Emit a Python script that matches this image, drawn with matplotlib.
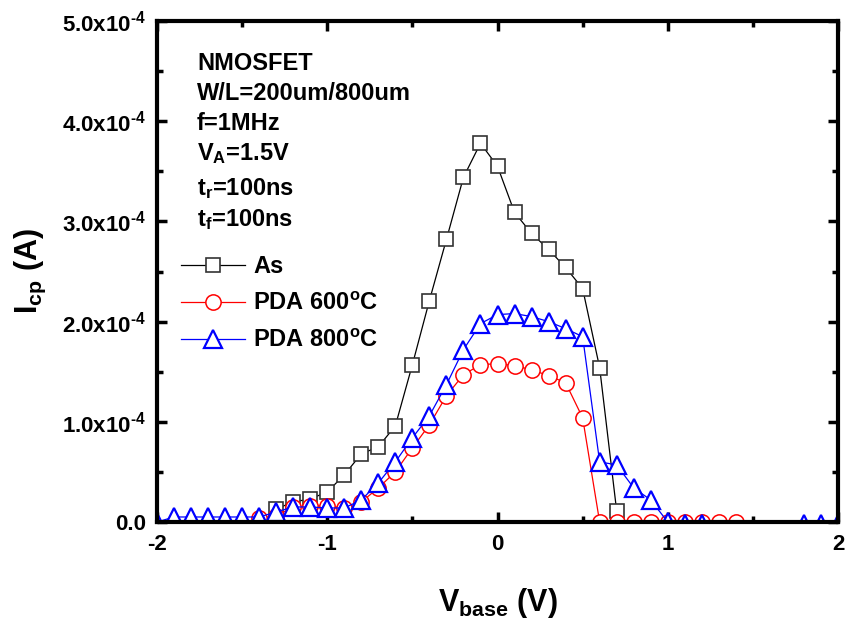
import numpy as np
import matplotlib
matplotlib.use('Agg')
import matplotlib.pyplot as plt

plt.rcParams['font.family'] = ['Liberation Sans', 'DejaVu Sans']
plt.rcParams['font.weight'] = 'bold'
plt.rcParams['axes.labelweight'] = 'bold'
plt.rcParams['mathtext.fontset'] = 'custom'
plt.rcParams['mathtext.rm'] = 'Liberation Sans:bold'
plt.rcParams['mathtext.it'] = 'Liberation Sans:bold'
plt.rcParams['mathtext.bf'] = 'Liberation Sans:bold'

# data (Icp in units of 1e-4 A)
x_as = [-1.3, -1.2, -1.1, -1.0, -0.9, -0.8, -0.7, -0.6, -0.5, -0.4, -0.3,
        -0.2, -0.1, 0.0, 0.1, 0.2, 0.3, 0.4, 0.5, 0.6, 0.7]
y_as = [0.13, 0.20, 0.23, 0.30, 0.47, 0.68, 0.75, 0.96, 1.57, 2.21, 2.82,
        3.44, 3.78, 3.55, 3.09, 2.88, 2.72, 2.54, 2.33, 1.54, 0.11]

x_600 = [-1.4, -1.3, -1.2, -1.1, -1.0, -0.9, -0.8, -0.7, -0.6, -0.5, -0.4,
         -0.3, -0.2, -0.1, 0.0, 0.1, 0.2, 0.3, 0.4, 0.5, 0.6, 0.7, 0.8,
         0.9, 1.0, 1.1, 1.2, 1.3, 1.4]
y_600 = [0.04, 0.06, 0.15, 0.16, 0.16, 0.14, 0.20, 0.34, 0.50, 0.74, 0.97,
         1.26, 1.47, 1.57, 1.58, 1.56, 1.52, 1.46, 1.39, 1.04, 0.0, 0.0, 0.0,
         0.0, 0.0, 0.0, 0.0, 0.0, 0.0]

x_800 = [-2.0, -1.9, -1.8, -1.7, -1.6, -1.5, -1.4, -1.3, -1.2, -1.1, -1.0,
         -0.9, -0.8, -0.7, -0.6, -0.5, -0.4, -0.3, -0.2, -0.1, 0.0, 0.1,
         0.2, 0.3, 0.4, 0.5, 0.6, 0.7, 0.8, 0.9, 1.0, 1.1, 1.2, 1.3, 1.4,
         1.5, 1.6, 1.7, 1.8, 1.9, 2.0]
y_800 = [0.0, 0.05, 0.05, 0.05, 0.05, 0.05, 0.05, 0.10, 0.15, 0.15, 0.14,
         0.14, 0.22, 0.39, 0.60, 0.84, 1.06, 1.37, 1.72, 1.98, 2.07, 2.08,
         2.05, 2.00, 1.93, 1.85, 0.60, 0.57, 0.34, 0.22, 0.0, -0.02, -0.02,
         np.nan, np.nan, np.nan, np.nan, np.nan, -0.02, -0.02, -0.02]

yticks = [0, 1, 2, 3, 4, 5]
ytick_labels = ['0.0', '1.0x10$^{\u20104}$', '2.0x10$^{\u20104}$',
                '3.0x10$^{\u20104}$', '4.0x10$^{\u20104}$', '5.0x10$^{\u20104}$']
xticks = [-2, -1, 0, 1, 2]

notes = ['NMOSFET', 'W/L=200um/800um', 'f=1MHz', 'V$_{\\mathrm{A}}$=1.5V',
         't$_{\\mathrm{r}}$=100ns', 't$_{\\mathrm{f}}$=100ns']
note_base = [70, 100, 130, 160, 195, 226]  # baseline pixel rows

scale = 1e-4
fig = plt.figure(figsize=(8.47, 6.21), dpi=100)
ax = fig.add_axes([157/847, 1-522/621, 681/847, 501/621])

ax.plot(x_as, np.array(y_as)*scale, color='black', lw=0.9, marker='s', ms=10.5,
        mfc='white', mec='#333333', mew=1.2, label='As', zorder=3)
ax.plot(x_600, np.array(y_600)*scale, color='red', lw=0.9, marker='o', ms=11,
        mfc='white', mec='red', mew=1.1, label='PDA 600$^{\\mathrm{o}}$C', zorder=4)
ax.plot(x_800, np.array(y_800)*scale, color='blue', lw=0.9, marker='^', ms=12.5,
        mfc='white', mec='blue', mew=1.6, label='PDA 800$^{\\mathrm{o}}$C', zorder=5)

ax.set_xlim(-2, 2)
ax.set_ylim(0, 5e-4)
ax.set_xticks(xticks)
ax.set_xticklabels([str(v) for v in xticks])
ax.set_xticks(np.arange(-2, 2.01, 0.5), minor=True)
ax.set_yticks([v*scale for v in yticks])
ax.set_yticklabels(ytick_labels)
ax.set_yticks(np.arange(0, 5.01, 0.5)*scale, minor=True)

for s in ax.spines.values():
    s.set_linewidth(3)
    s.set_zorder(6)
ax.tick_params(which='both', direction='in', top=True, right=True, width=2.5,
               labelsize=16)
ax.tick_params(which='major', length=7)
ax.tick_params(which='minor', length=4)
ax.tick_params(axis='y', pad=8)
ax.tick_params(axis='x', pad=9)

ax.set_xlabel('V$_{\\mathrm{base}}$ (V)', fontsize=22, labelpad=22)
ax.set_ylabel('I$_{\\mathrm{cp}}$ (A)', fontsize=22, labelpad=10)

for t, b in zip(notes, note_base):
    ax.text((197-157)/681, (522-b)/501, t, transform=ax.transAxes,
            fontsize=17, va='baseline', ha='left')

ax.legend(loc='upper left', bbox_to_anchor=((181-157)/681, (522-255)/501),
          frameon=False, fontsize=17, handlelength=2.7, handletextpad=0.35,
          labelspacing=0.6, borderpad=0, borderaxespad=0)

fig.savefig('out.png', dpi=100)
